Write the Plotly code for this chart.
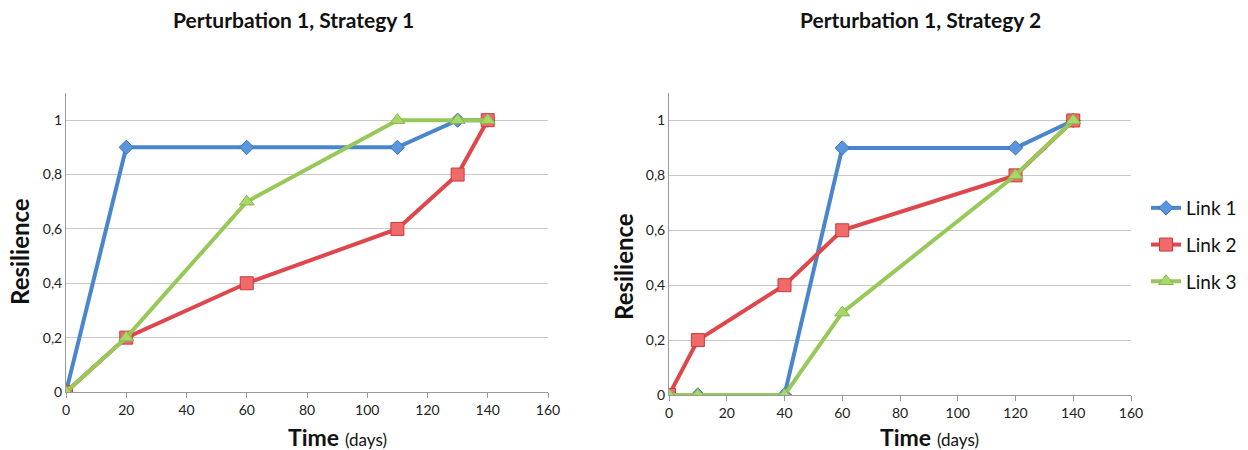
import plotly.graph_objects as go

# Data
x_s1 = [0, 20, 60, 110, 130, 140]
s1_link1 = [0, 0.9, 0.9, 0.9, 1, 1]
s1_link2 = [0, 0.2, 0.4, 0.6, 0.8, 1]
s1_link3 = [0, 0.2, 0.7, 1, 1, 1]

x_s2 = [0, 10, 40, 60, 120, 140]
s2_link1 = [0, 0, 0, 0.9, 0.9, 1]
s2_link2 = [0, 0.2, 0.4, 0.6, 0.8, 1]
s2_link3 = [0, 0, 0, 0.3, 0.8, 1]

names = ["Link 1", "Link 2", "Link 3"]
titles = ["Perturbation 1, Strategy 1", "Perturbation 1, Strategy 2"]

line_colors = ["#4A86CC", "#DE474B", "#98C858"]
marker_fill = ["#5A96DE", "#F06A6A", "#A8D86A"]
marker_edge = ["#3A74B8", "#C83A3E", "#88B848"]
symbols = ["diamond", "square", "triangle-up"]
msizes = [11, 13, 13]

FONT = "Lato"
W, H = 1248, 450

fig = go.Figure()

series = [
    (x_s1, [s1_link1, s1_link2, s1_link3], "x", "y", True),
    (x_s2, [s2_link1, s2_link2, s2_link3], "x2", "y2", False),
]
for xs, ys_list, xa, ya, first in series:
    for i, ys in enumerate(ys_list):
        fig.add_trace(go.Scatter(
            x=xs, y=ys, name=names[i], mode="lines+markers",
            xaxis=xa, yaxis=ya, showlegend=not first, legendgroup="g%d" % i,
            line=dict(color=line_colors[i], width=4),
            marker=dict(symbol=symbols[i], size=msizes[i], color=marker_fill[i],
                        line=dict(color=marker_edge[i], width=1)),
        ))


def px_x(p):
    return p / W


def px_y(p):
    return 1 - p / H


axis_common = dict(
    showline=True, linecolor="#9A9A9A", linewidth=1,
    tickfont=dict(family=FONT, size=14, color="#222"),
    zeroline=False, automargin=False,
)

fig.update_layout(
    width=W, height=H,
    margin=dict(l=0, r=0, t=0, b=0),
    paper_bgcolor="white", plot_bgcolor="white",
    separators=",.",
    font=dict(family=FONT),
    xaxis=dict(domain=[px_x(66), px_x(548)], range=[0, 160], dtick=20,
               anchor="y", showgrid=False, ticks="outside", ticklen=5,
               tickcolor="#9A9A9A", **axis_common),
    yaxis=dict(domain=[px_y(392), px_y(93)], range=[0, 1.1], tickvals=[0, 0.2, 0.4, 0.6, 0.8, 1],
               anchor="x", showgrid=True, gridcolor="#C8C8C8", gridwidth=1,
               ticks="", **axis_common),
    xaxis2=dict(domain=[px_x(669), px_x(1131)], range=[0, 160], dtick=20,
                anchor="y2", showgrid=False, ticks="outside", ticklen=5,
                tickcolor="#9A9A9A", **axis_common),
    yaxis2=dict(domain=[px_y(395), px_y(93)], range=[0, 1.1], tickvals=[0, 0.2, 0.4, 0.6, 0.8, 1],
                anchor="x2", showgrid=True, gridcolor="#C8C8C8", gridwidth=1,
                ticks="", **axis_common),
    legend=dict(x=px_x(1146), y=px_y(245), xanchor="left", yanchor="middle",
                font=dict(family=FONT, size=19, color="#111"),
                tracegroupgap=9, itemwidth=30, bgcolor="rgba(0,0,0,0)"),
)

annotations = []
for cx, txt in [(293, titles[0]), (920, titles[1])]:
    annotations.append(dict(x=px_x(cx), y=px_y(20), xref="paper", yref="paper",
                            xanchor="center", yanchor="middle",
                            text="<b>" + txt + "</b>", showarrow=False,
                            font=dict(family=FONT, size=21, color="#111")))
for cx, cy in [(337, 437), (929, 437)]:
    annotations.append(dict(x=px_x(cx), y=px_y(cy), xref="paper", yref="paper",
                            xanchor="center", yanchor="middle",
                            text="<b>Time</b> <span style='font-size:17px'>(days)</span>",
                            showarrow=False, font=dict(family=FONT, size=23, color="#111")))
for cx, cy in [(19, 252), (623, 267)]:
    annotations.append(dict(x=px_x(cx), y=px_y(cy), xref="paper", yref="paper",
                            xanchor="center", yanchor="middle",
                            text="<b>Resilience</b>", textangle=-90, showarrow=False,
                            font=dict(family=FONT, size=24, color="#111")))
fig.update_layout(annotations=annotations)

fig.write_html("out.html")
